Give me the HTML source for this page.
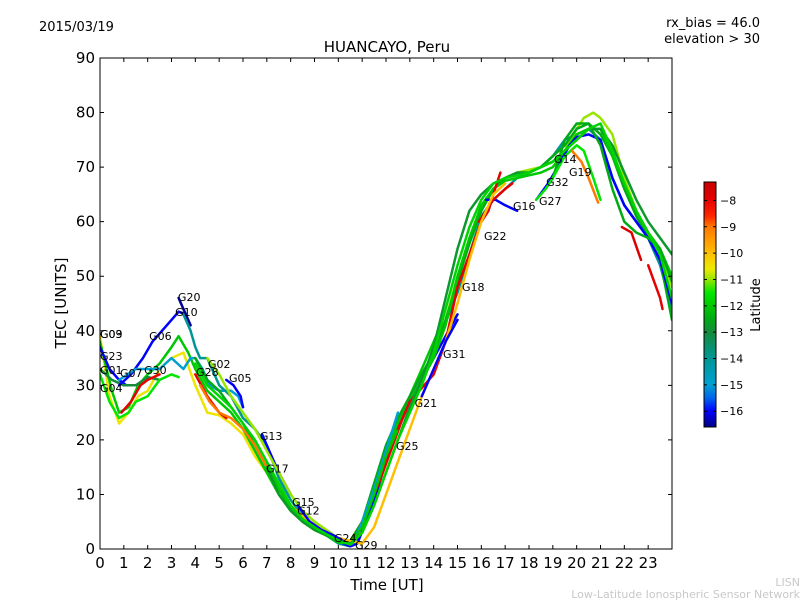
<!DOCTYPE html>
<html><head><meta charset="utf-8"><style>
body{margin:0;background:#fff;}
svg{display:block;font-family:"DejaVu Sans","Liberation Sans",sans-serif;}
</style></head><body>
<svg id="c" width="800" height="600" viewBox="0 0 800 600">
<defs><linearGradient id="jet" x1="0" y1="0" x2="0" y2="1"></linearGradient>
<clipPath id="pc"><rect x="100" y="58" width="572" height="491"/></clipPath></defs>
<text x="39" y="31" font-size="13">2015/03/19</text>
<text x="760" y="27" font-size="13" text-anchor="end">rx_bias = 46.0</text>
<text x="760" y="43" font-size="13" text-anchor="end">elevation &gt; 30</text>
<text x="387" y="52" font-size="15" text-anchor="middle">HUANCAYO, Peru</text>
<text x="387" y="590" font-size="15" text-anchor="middle">Time [UT]</text>
<text x="66" y="303" font-size="15" text-anchor="middle" transform="rotate(-90 66 303)">TEC [UNITS]</text>
<text x="800" y="586" font-size="11" fill="#c8c8c8" text-anchor="end">LISN</text>
<text x="800" y="598" font-size="11" fill="#c8c8c8" text-anchor="end">Low-Latitude Ionospheric Sensor Network</text>
<g id="tracks" clip-path="url(#pc)"></g>
<g id="labels"></g>
<rect x="100" y="58" width="572" height="491" fill="none" stroke="#000" stroke-width="1"/>
<g id="axes"></g>
<rect x="704" y="182" width="12" height="245" fill="url(#jet)" stroke="#000" stroke-width="1"/>
<g id="cbticks"></g>
<text x="760" y="305" font-size="13" text-anchor="middle" transform="rotate(-90 760 305)">Latitude</text>
</svg>
<script>
const xTicks=[0,1,2,3,4,5,6,7,8,9,10,11,12,13,14,15,16,17,18,19,20,21,22,23];
const yTicks=[0,10,20,30,40,50,60,70,80,90];
const cbTicks=[-8,-9,-10,-11,-12,-13,-14,-15,-16];
const latMin=-16.6, latMax=-7.3;
const trackLat=[-10.5,-12,-16,-13,-11.5,-8,-16,-16.5,-15,-14,-8,-16,-16,-11,-12.5,-9,-16,-8,-15,-12,-16,-8,-8,-16,-12.5,-11.5,-10,-9,-7.8,-16,-16,-8,-12.8,-11.8];
const trackT=[
[0,0.4,0.8,1.2,1.6,2,2.5,3,3.5,4,4.5,5,5.5,6,6.5,7,7.5,8,8.5,9,9.5,10,10.5,11,11.5,12,12.5],
[0,0.5,0.8,1.2,1.6,2,2.5,3,3.3,3.7,4,4.5,5,5.5,6,6.5,7,7.5,8,8.5,9,9.5,10,10.5,11,11.5,12,12.5,13,13.5,14,14.2],
[0,0.4,0.8,1.1],
[0,0.5,1,1.5,2,2.5],
[0,0.4,0.8,1.2,1.5,2,2.5,3,3.3],
[0.9,1.3,1.7,2,2.5],
[0.8,1.3,1.8,2.2,2.6,3,3.3,3.6],
[3.3,3.6,3.8],
[0.8,1.5,2,2.5,3,3.5,3.8,4,4.3,4.6,5,5.5,5.8,6],
[3.5,3.8,4,4.2,4.5,4.8,5,5.5,6,6.5,7,7.5,8,8.5,9,9.5,10,10.5,11,11.5,12,12.5,13,13.5,14,15,16,16.5,17,17.5,18,18.5,19,19.5,20,20.5,21,21.5,22,22.5,23,23.5,24],
[4,4.5,5,5.3],
[5.3,5.6,5.9,6],
[6.8,7.2,7.5,8],
[4.5,5,5.5,6,6.5,7,7.5,8,8.5,9,9.5,10,10.5,11,11.5,12,12.5,13,13.5,14,14.5,15,15.5,16,16.5,17,17.5,18,18.5,19,19.5,20,20.3,20.7,21,21.5,22,22.5,23,23.5,24],
[4,4.5,5,5.5,6,6.5,7,7.5,8,8.5,9,9.5,10,10.5,11,11.5,12,12.5,13,13.5,14,14.5,15,15.5,16,16.5,17,17.5,18,18.5,19,19.5,20,20.5,21,21.5,22,22.5,23,23.5,24],
[4.2,4.6,5,5.5,6,6.5,7,7.5,8,8.5,9],
[9.8,10.2,10.5,10.8,11.5,12,12.5,13,13.5,14,14.5,15],
[10.5,10.8,11.2,11.7,12.2,12.7],
[10.6,11,11.5,12,12.5],
[7,7.5,8,8.5,9,9.5,10,10.5,11,11.5,12,12.5,13,13.5,14,14.5,15,15.5,16,16.5,17,17.5,18,18.5,19,19.5,20,20.5,21,21.5,22,22.5,23,23.5,24],
[16.2,16.6,17,17.5],
[12.5,13,14,14.5,15,15.5,16,16.3,16.5,16.8],
[15.9,16.2,16.5,17,17.3],
[18.3,18.8,19.2,19.7,20,20.5,21,21.5,22,22.5,23,23.5,24],
[19,19.5,20,20.5,21,21.5,22,22.5,23,23.5,24],
[18.3,18.7,19,19.5,20,20.3,20.7,21],
[8,8.5,9,9.5,10,10.5,11,11.5,12,12.5,13,13.5,14,14.5,15,15.5,16,16.5,17],
[19.8,20.2,20.5,20.9],
[21.9,22.3,22.7],
[8.3,8.8,9.3,9.8,10.2,10.5],
[13.5,14,14.5,15],
[23,23.5,23.6],
[7,7.5,8,8.5,9,9.5,10,10.5,11,11.5,12,12.5,13,13.5,14,14.5,15,15.5,16,16.5,17,17.5,18,18.5,19,19.5,20,20.5,21,21.5,22,22.5,23,23.5,24],
[4,4.5,5,5.5,6,6.5,7,7.5,8,8.5,9,9.5,10,10.5,11,11.5,12,12.5,13,13.5,14,14.5,15,15.5,16,16.5,17,17.5,18,18.5,19,19.5,20,20.5,21,21.5,22,22.5,23,23.5,24]
];
const trackV=[
[39,28,23,25,28,29,33,35,36,30,25,24.5,23,21,17,14,11,8,6,4.5,3,2,1.5,5,11,17,23],
[38,29,25,26,30,32,34,37,39,36,33,29,27,25,22,18,14,10,7,5,3.5,2.5,1.5,1,4,11,18,23,28,33,38,40],
[37,33,31,30],
[33,31,30,30,31.5,31],
[32,27,24,25,27,28,31,32,31.5],
[25,27,30,31,32],
[30,32,35,38,40,42,43.5,43],
[46,43,41],
[31,33,33,33,35,33,35,35,33,30,29,29,28,26],
[43,40,37,35,35,32,30,28,24,22,19,13,9,6,4,2.5,1,0.5,3,9,16,22,27,31,36,47,61,64,66,68,69,70,72,75,76,77,75,68,63,60,57,52,44],
[32,28,25,24],
[31,30,28,26],
[21,17,14,10],
[35,32,28,25,22,18,14,10,7,5,3.5,2,1,4,10,16,22,27,31,36,42,50,56,62,66,68,69,69.5,70,71,73,77,79,80,79,76,68,62,58,55,48,37],
[35,31,29,26,23,19,15,11,7.5,5,3.5,2.5,1.5,1.5,5,12,19,24,28,32,36,42,49,56,62,66,68,69,69,70,72,74,77,78,76,72,66,61,57,53,42],
[30,27,25,24,22,19,15,11,8,5,3.5],
[2,1,0.5,1,9,16,22,27,31,35,39,43],
[1,3,7,12,18,24],
[1,5,11,18,25],
[16,11,7.5,5,3.5,2.5,1.2,1,4,10,17,22,27,31,35,41,50,57,63,66,67.5,68,68.5,69,70,73,76,77,77,72,67,62,58,55,50],
[64,64,63,62],
[22,27,32,38,48,54,60,62,65,69],
[60,62,64,66,67],
[64,67,70,74,75.5,76,75,68,63,60,57,53,45],
[68,75,78,78,74,66,60,58,57,55,49],
[64,66,68,72,74,73,68,64],
[8,6,4,3,2,1.5,1,4,10,16,22,28,33,38,45,53,60,65,67],
[73,71,68,63.5],
[59,58,53],
[8,5,3.5,2.5,1.5,0.8],
[28,33,38,42],
[52,46,44],
[15,10,7,5,3.5,2.5,1.5,1,3,8,14,20,26,31,37,46,55,62,65,67,68,69,69,70,71,73,75,77,77,74,69,64,60,57,54,48,41],
[34,30,28,26,23,20,16,12,8,5.5,4,2.7,1.6,0.8,3,8,14,20,25,30,36,44,52,59,64,67,68,68.5,69,70,71,73,75,77,78,73,67,62,58,54,46]
];
const labelNames=["G09","G03","G23","G01","G04","G07","G30","G06","G20","G10","G02","G28","G05","G13","G17","G15","G12","G24","G29","G25","G21","G31","G18","G22","G16","G27","G32","G14","G19"];
const labelT=[0,0,0,0,0,0.84,1.85,2.06,3.27,3.15,4.53,4.03,5.41,6.71,6.97,8.06,8.27,9.82,10.7,12.42,13.2,14.39,15.19,16.11,17.33,18.42,18.72,19.05,19.68];
const labelV=[39.4,39.4,35.4,32.8,29.5,32.3,32.8,39.0,46.2,43.4,33.9,32.4,31.3,20.7,14.8,8.6,7.1,2.0,0.7,18.9,26.8,35.7,48.0,57.4,62.9,63.8,67.3,71.5,69.1];

const NS="http://www.w3.org/2000/svg";
const X0=100,X1=672,Y0=549,Y1=58;
function xs(t){return X0+(X1-X0)*t/24;}
function ys(v){return Y0-(Y0-Y1)*v/90;}
function cbY(l){return 182+245*(latMax-l)/(latMax-latMin);}
// colormap stops: [latitude, r,g,b]
const CM=[[-7.3,200,0,0],[-8,230,0,0],[-8.6,255,40,0],[-9,255,120,0],[-10,255,190,0],[-10.6,235,235,0],[-11,150,230,0],[-11.5,0,230,0],[-12,0,200,0],[-12.5,0,170,20],[-13,20,140,60],[-14,0,150,150],[-15,0,160,210],[-15.5,0,100,235],[-16,0,0,255],[-16.6,0,0,130]];
function cmap(l){
  if(l>=CM[0][0])return `rgb(${CM[0][1]},${CM[0][2]},${CM[0][3]})`;
  for(let i=1;i<CM.length;i++){
    if(l>=CM[i][0]){const a=CM[i-1],b=CM[i],f=(a[0]-l)/(a[0]-b[0]);
      return `rgb(${Math.round(a[1]+(b[1]-a[1])*f)},${Math.round(a[2]+(b[2]-a[2])*f)},${Math.round(a[3]+(b[3]-a[3])*f)})`;}
  }
  const z=CM[CM.length-1];return `rgb(${z[1]},${z[2]},${z[3]})`;
}
function mk(tag,attrs,parent){const e=document.createElementNS(NS,tag);for(const k in attrs)e.setAttribute(k,attrs[k]);parent.appendChild(e);return e;}
const grad=document.getElementById('jet');
CM.forEach(s=>{mk('stop',{offset:((latMax-s[0])/(latMax-latMin)).toFixed(3),'stop-color':`rgb(${s[1]},${s[2]},${s[3]})`},grad);});
const tg=document.getElementById('tracks');
trackT.forEach((ts,i)=>{
  const d=ts.map((t,j)=>(j?'L':'M')+xs(t).toFixed(1)+','+ys(trackV[i][j]).toFixed(1)).join('');
  const p=mk('path',{d:d,fill:'none',stroke:cmap(trackLat[i]),'stroke-width':2.5,'stroke-linejoin':'round','stroke-linecap':'round'},tg);
  
  
});
const lg=document.getElementById('labels');
labelNames.forEach((n,i)=>{
  const t=mk('text',{x:xs(labelT[i]),y:ys(labelV[i])+4,'font-size':11},lg);
  t.textContent=n;
  
  
});
const ax=document.getElementById('axes');
xTicks.forEach(t=>{
  const x=xs(t);
  const l=mk('path',{d:`M${x},${Y0}V${Y0-4}M${x},${Y1}V${Y1+4}`,stroke:'#000','stroke-width':1},ax);
  
  
  const tx=mk('text',{x:x,y:568,'font-size':15,'text-anchor':'middle'},ax);
  tx.textContent=t;
  
  
});
yTicks.forEach(v=>{
  const y=ys(v);
  const l=mk('path',{d:`M${X0},${y}H${X0+4}M${X1},${y}H${X1-4}`,stroke:'#000','stroke-width':1},ax);
  
  
  const tx=mk('text',{x:95,y:y+5,'font-size':15,'text-anchor':'end'},ax);
  tx.textContent=v;
  
  
});
const cg=document.getElementById('cbticks');
cbTicks.forEach(l=>{
  const y=cbY(l);
  const p=mk('path',{d:`M704,${y}h3M716,${y}h-3`,stroke:'#000','stroke-width':1},cg);
  
  
  const t=mk('text',{x:720,y:y+4,'font-size':11},cg);
  t.textContent='\u2212'+Math.abs(l);
  
  
});
</script>
</body></html>
